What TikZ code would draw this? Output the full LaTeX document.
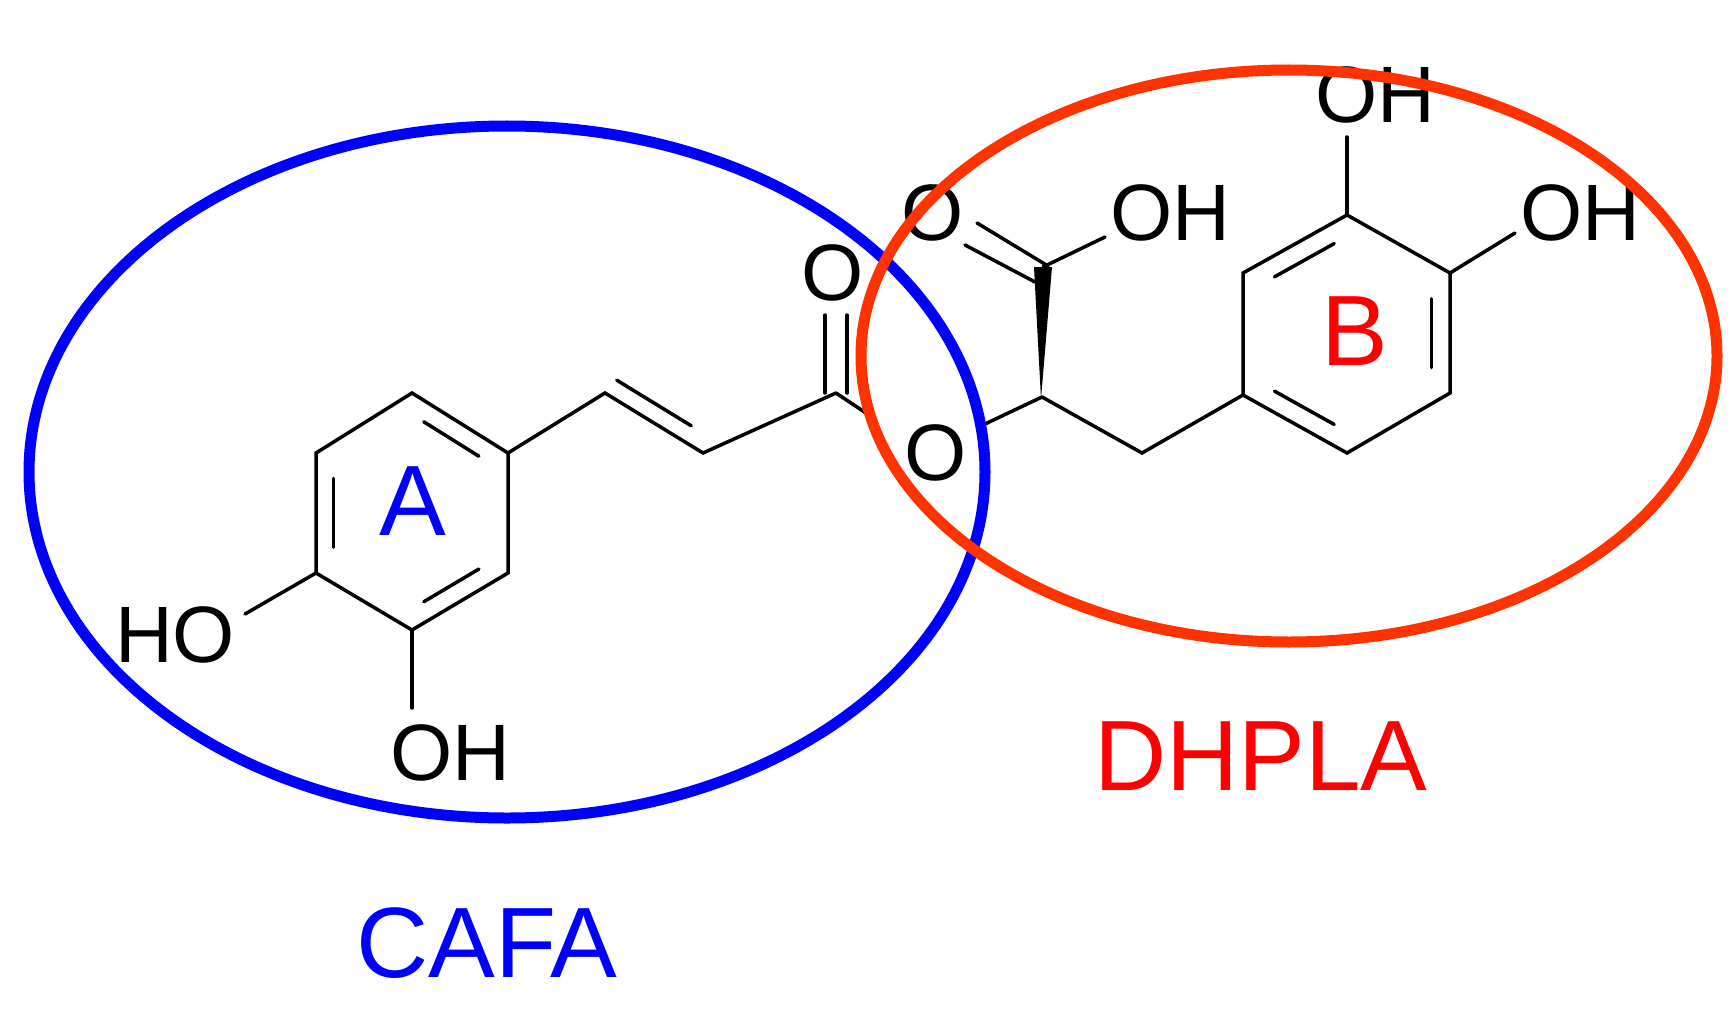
\documentclass[tikz,border=0pt]{standalone}
\usepackage{fontspec}
\setmainfont{Liberation Sans}
\usetikzlibrary{calc}
\definecolor{cblue}{RGB}{0,0,255}
\definecolor{cred}{RGB}{255,51,0}
\definecolor{tred}{RGB}{255,0,0}
\begin{document}
\begin{tikzpicture}[x=1pt,y=-1pt,
  bond/.style={line width=3.5pt,line cap=round},
  atom/.style={inner sep=0pt,font=\fontsize{80}{80}\selectfont},
  ring/.style={inner sep=0pt,font=\fontsize{100}{100}\selectfont},
  lbl/.style={inner sep=0pt,font=\fontsize{100}{100}\selectfont}]
\useasboundingbox (0,0) rectangle (1735,1014);
% ring A
\coordinate (a1) at (412,393); \coordinate (a2) at (508,453); \coordinate (a3) at (508,573);
\coordinate (a4) at (412,630); \coordinate (a5) at (316,573); \coordinate (a6) at (316,453);
\coordinate (ac) at (412,512);
\draw[bond] (a1)--(a2)--(a3)--(a4)--(a5)--(a6)--cycle;
\foreach \p/\q in {a1/a2,a3/a4,a5/a6}
  \draw[bond] ($($(\p)!0.15!(\q)$)!0.18!(ac)$)--($($(\p)!0.85!(\q)$)!0.18!(ac)$);
% substituents A
\node[atom] (hoA) at (175,635) {HO};
\node[atom] (ohA) at (450,753) {OH};
\coordinate (hoAb) at (245,614); \coordinate (ohAb) at (412,708);
\draw[bond] (a5)--(hoAb); \draw[bond] (a4)--(ohAb);
% chain
\coordinate (v1) at (605,393); \coordinate (v2) at (703,453); \coordinate (cc) at (836,393);
\draw[bond] (a2)--(v1)--(v2)--(cc);
\draw[bond] ($(v1)!0.12!(v2)+(0,-20)$)--($(v1)!0.88!(v2)+(0,-20)$);
\node[atom] (oc) at (833,273) {O};
\draw[bond] (825,393)--(825,315); \draw[bond] (847,393)--(847,315);
\node[atom] (oe) at (936,453) {O};
\coordinate (oeL) at (872,417); \coordinate (oeR) at (985,424);
\draw[bond] (cc)--(oeL);
\coordinate (ch) at (1042,397);
\draw[bond] (oeR)--(ch);
% carboxyl
\coordinate (cx) at (1043,267);
\fill (1041,399) -- (1034,267) -- (1052,267) -- cycle;
\node[atom] (ocx) at (933,213) {O};
\node[atom] (ohx) at (1170,213) {OH};
\draw[bond] (977,223)--(1048,266);
\draw[bond] (965,245)--(1035,282);
\draw[bond] (cx)--(1105,237);
% CH2
\coordinate (ch2) at (1142,453);
% ring B
\coordinate (b1) at (1347,215); \coordinate (b2) at (1450,273); \coordinate (b3) at (1450,393);
\coordinate (b4) at (1347,453); \coordinate (b5) at (1243,395); \coordinate (b6) at (1243,273);
\coordinate (bc) at (1347,334);
\draw[bond] (ch)--(ch2)--(b5);
\draw[bond] (b1)--(b2)--(b3)--(b4)--(b5)--(b6)--cycle;
\foreach \p/\q in {b6/b1,b2/b3,b4/b5}
  \draw[bond] ($($(\p)!0.15!(\q)$)!0.18!(bc)$)--($($(\p)!0.85!(\q)$)!0.18!(bc)$);
\node[atom] (ohB1) at (1375,95) {OH};
\node[atom] (ohB2) at (1580,213) {OH};
\draw[bond] (b1)--(1347,137); \draw[bond] (b2)--(1515,233);
% ring labels
\node[ring,text=cblue] (lA) at (413,501) {A};
\node[ring,text=tred] (lB) at (1355,331) {B};
% ellipses
\draw[cblue,line width=11pt] (507,472) ellipse [x radius=478,y radius=346];
\draw[cred,line width=11pt] (1289,356) ellipse [x radius=428,y radius=286];
\node[lbl,text=cblue] (cafa) at (487,943) {CAFA};
\node[lbl,text=tred] (dhpla) at (1261,756) {DHPLA};
\end{tikzpicture}
\end{document}
